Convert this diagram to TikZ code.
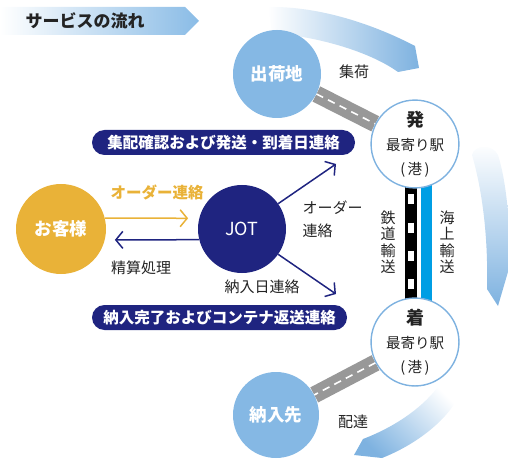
\documentclass[tikz,border=0pt]{standalone}
\usepackage{fontspec}
\setmainfont{Noto Sans CJK JP}
\usetikzlibrary{arrows.meta,backgrounds}
\definecolor{navy}{RGB}{31,36,128}
\definecolor{gold}{RGB}{233,178,56}
\definecolor{skyblue}{RGB}{133,184,228}
\definecolor{ringblue}{RGB}{126,178,224}
\definecolor{titleblue}{RGB}{138,188,230}
\definecolor{seablue}{RGB}{0,158,228}
\definecolor{roadgray}{RGB}{152,152,152}
\definecolor{inkgray}{RGB}{35,35,35}
\begin{document}
\begin{tikzpicture}[x=1pt,y=-1pt,
  every node/.style={text=inkgray, font=\fontsize{15}{18}\selectfont},
  solidball/.style={circle, inner sep=0pt, text=white, font=\fontsize{17.5}{20}\selectfont\bfseries},
  stationball/.style={circle, draw=ringblue, line width=1.4pt, fill=white, minimum size=87pt, inner sep=0pt, align=center, font=\fontsize{14.5}{24}\selectfont},
  pill/.style={rounded corners=12.5pt, fill=navy, text=white, minimum height=25pt, inner sep=0pt, font=\fontsize{15.5}{18}\selectfont\bfseries},
  flowarrow/.style={line width=1.5pt, -{Straight Barb[length=7pt,width=17pt]}},
  road/.style={line width=17pt, roadgray},
  roadmark/.style={white, line width=1.6pt, dash pattern=on 7.5pt off 5.5pt},
  vtext/.style={align=center, font=\fontsize{15}{16.5}\selectfont}]
  \useasboundingbox (0,0) rectangle (508,462);
  % Titulo
  \shade[left color=white, right color=titleblue] (0,7) -- (185,7) -- (199,21) -- (185,35) -- (0,35) -- cycle;
  \node[font=\fontsize{17}{20}\selectfont\bfseries] (title) at (85,21) {サービスの流れ};
  % Faixas do ciclo
  \shade[left color=white, right color=ringblue]
    (268,7) .. controls (320,6) and (375,25) .. (415,46)
    -- (419,68) -- (398,72)
    .. controls (370,52) and (320,37) .. (272,33) -- cycle;
  \shade[top color=white, bottom color=ringblue]
    (472,155) .. controls (474,145) and (492,143) .. (498,155)
    .. controls (506,180) and (510,220) .. (510,265)
    -- (498,306) -- (487,289)
    .. controls (488,250) and (485,200) .. (472,155) -- cycle;
  \shade[top color=white, bottom color=ringblue, shading angle=-45]
    (437,388) .. controls (420,410) and (392,428) .. (363,439)
    -- (354,455) -- (382,458)
    .. controls (415,445) and (445,422) .. (458,398)
    .. controls (455,385) and (442,380) .. (437,388) -- cycle;
  % Circulos
  \node[solidball, fill=skyblue, minimum size=88pt] (src) at (277,74) {出荷地};
  \node[stationball] (dep) at (415,144) {{\fontsize{18}{20}\selectfont\bfseries 発}\\最寄り駅\\(\,港\,)};
  \node[stationball] (arr) at (415,342) {{\fontsize{18}{20}\selectfont\bfseries 着}\\最寄り駅\\(\,港\,)};
  \node[solidball, fill=skyblue, minimum size=86pt] (dst) at (276,415) {納入先};
  \node[solidball, fill=gold, minimum size=90pt] (cust) at (61,229) {お客様};
  \node[solidball, fill=navy, minimum size=88pt, font=\fontsize{18}{20}\selectfont] (jot) at (242,229) {JOT};
  % Estradas e trilhos
  \begin{scope}[on background layer]
    \draw[road] (src) -- (dep);
    \draw[roadmark] (src) -- (dep);
    \draw[road] (arr) -- (dst);
    \draw[roadmark] (arr) -- (dst);
    \draw[line width=12pt] ([xshift=-4pt]dep.center) -- ([xshift=-4pt]arr.center);
    \draw[white, line width=6.5pt, dash pattern=on 10pt off 18.3pt, dash phase=6.3pt]
      ([xshift=-4pt]dep.center) -- ([xshift=-4pt]arr.center);
    \draw[seablue, line width=11pt] ([xshift=11.5pt]dep.center) -- ([xshift=11.5pt]arr.center);
  \end{scope}
  \node (pickup) at (354,72) {集荷};
  \node (delivery) at (353,422) {配達};
  \node[vtext] (railtxt) at (388,242) {鉄\\道\\輸\\送};
  \node[vtext] (seatxt) at (447,242) {海\\上\\輸\\送};
  % Setas
  \draw[flowarrow, gold, shorten >=11pt] (cust.14) -- (jot.166);
  \node[text=gold, font=\fontsize{15.5}{18}\selectfont\bfseries] (ordertxt) at (157,192) {オーダー連絡};
  \draw[flowarrow, navy, shorten >=10pt] (jot.194) -- (cust.-14);
  \node (paytxt) at (141,268) {精算処理};
  \coordinate (upTip) at (336,164);
  \coordinate (downTip) at (336,294);
  \draw[flowarrow, navy] (jot.35) -- (upTip);
  \draw[flowarrow, navy] (jot.-35) -- (downTip);
  \node[anchor=west, align=left, font=\fontsize{15}{23}\selectfont] (ordertxt2) at (299,219) {オーダー\\連絡};
  \node (datetxt) at (262,287) {納入日連絡};
  % Faixas de aviso
  \node[pill, minimum width=263pt] (notice1) at (223.5,142.5) {集配確認および発送・到着日連絡};
  \node[pill, minimum width=255pt] (notice2) at (219.5,317.5) {納入完了およびコンテナ返送連絡};
\end{tikzpicture}
\end{document}
